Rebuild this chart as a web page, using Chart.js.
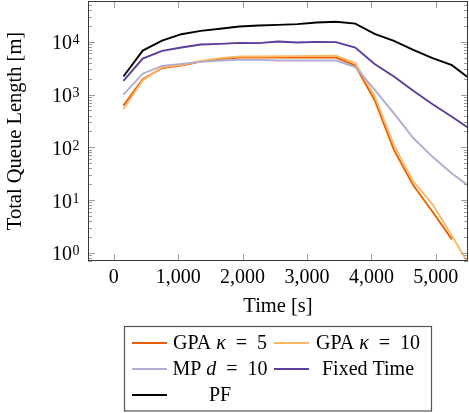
<!DOCTYPE html>
<html>
<head>
<meta charset="utf-8">
<script src="https://cdn.jsdelivr.net/npm/chart.js@4/dist/chart.umd.min.js"></script>
<style>
  html, body { margin: 0; padding: 0; background: #fff; }
</style>
</head>
<body>
<canvas id="id-canvas" width="469" height="413"></canvas>
<script>
// time steps [s]
var times = [150, 450, 750, 1050, 1350, 1650, 1950, 2250, 2550, 2850, 3150, 3450, 3750, 4050, 4350, 4650, 4950, 5250, 5550];

// total queue length [m]
var gpa5   = [615, 1960, 3170, 3540, 4220, 4680, 5030, 5030, 5100, 5030, 5030, 5030, 3550, 790, 89, 19, 6.0, 1.8, null];
var gpa10  = [530, 1840, 3300, 3600, 4350, 4900, 5250, 5250, 5300, 5350, 5400, 5450, 3950, 940, 110, 22.5, 8.3, 2.1, 0.5];
var mp10   = [1000, 2480, 3490, 3800, 4160, 4400, 4540, 4540, 4400, 4400, 4400, 4400, 3300, 1240, 440, 150, 66, 32, 17];
var fixedT = [1820, 4800, 6700, 7770, 8850, 9120, 9540, 9400, 10100, 9660, 9950, 9830, 7770, 3800, 2190, 1180, 655, 380, 215];
var pf     = [2200, 6800, 10500, 13900, 16100, 17600, 19400, 20300, 20900, 21600, 23100, 23900, 22100, 14100, 10400, 7000, 4900, 3600, 1900];

var seriesValues = [gpa5, gpa10, mp10, fixedT, pf];
// odd parts are set in italic (math letters); en spaces around "=" like TeX math
var seriesLabels = [['GPA ', 'κ', '\u2002=\u20025'], ['GPA ', 'κ', '\u2002=\u200210'], ['MP ', 'd', '\u2002=\u200210'], ['Fixed Time'], ['PF']];
var seriesColors = ['#e66101', '#fdb863', '#b2abd2', '#5e3c99', '#000000'];

var xTickValues = [0, 1000, 2000, 3000, 4000, 5000];
var yTickExponents = [0, 1, 2, 3, 4];

var FONT = "'Liberation Serif', 'Times New Roman', serif";

// draws a label made of plain / italic parts, centred on cx
function drawParts(ctx, parts, cx, y, size) {
  var widths = parts.map(function(p, i) {
    ctx.font = (i % 2 ? 'italic ' : '') + size + 'px ' + FONT;
    return ctx.measureText(p).width;
  });
  var total = widths.reduce(function(a, b) { return a + b; }, 0);
  var x = cx - total / 2;
  ctx.textAlign = 'left';
  parts.forEach(function(p, i) {
    ctx.font = (i % 2 ? 'italic ' : '') + size + 'px ' + FONT;
    ctx.fillText(p, x, y);
    x += widths[i];
  });
}

var frame = {
  id: 'frame',
  afterDraw: function(chart) {
    var ctx = chart.ctx, a = chart.chartArea;
    var xs = chart.scales.x, ys = chart.scales.y;
    ctx.save();

    // tick marks, inside the box on all four sides
    ctx.strokeStyle = '#9c9c9c';
    ctx.lineWidth = 1;
    ctx.beginPath();
    xTickValues.forEach(function(v) {
      var px = Math.round(xs.getPixelForValue(v)) + 0.5;
      ctx.moveTo(px, a.top); ctx.lineTo(px, a.top + 7);
      ctx.moveTo(px, a.bottom); ctx.lineTo(px, a.bottom - 7);
    });
    for (var e = -1; e <= 5; e++) {
      for (var m = 1; m <= 9; m++) {
        var v = m * Math.pow(10, e);
        if (v < ys.min || v > ys.max) continue;
        var py = Math.round(ys.getPixelForValue(v)) + 0.5;
        var len = m === 1 ? 7 : 4;
        ctx.moveTo(a.left, py); ctx.lineTo(a.left + len, py);
        ctx.moveTo(a.right, py); ctx.lineTo(a.right - len, py);
      }
    }
    ctx.stroke();

    // axis box
    ctx.strokeStyle = '#3a3a3a';
    ctx.strokeRect(a.left + 0.5, a.top + 0.5, a.right - a.left - 1, a.bottom - a.top - 1);

    // y tick labels 10^k
    ctx.fillStyle = '#000';
    ctx.textBaseline = 'alphabetic';
    yTickExponents.forEach(function(k) {
      var py = ys.getPixelForValue(Math.pow(10, k));
      ctx.font = '20px ' + FONT;
      ctx.textAlign = 'right';
      ctx.fillText('10', 72, py + 7.6);
      ctx.font = '14px ' + FONT;
      ctx.textAlign = 'left';
      ctx.fillText(String(k), 72.5, py + 2.5);
    });

    // axis titles
    ctx.font = '20.5px ' + FONT;
    ctx.textAlign = 'center';
    ctx.textBaseline = 'middle';
    ctx.fillText('Time [s]', (a.left + a.right) / 2, 307);
    ctx.save();
    ctx.translate(16, (a.top + a.bottom) / 2);
    ctx.rotate(-Math.PI / 2);
    ctx.fillText('Total Queue Length [m]', 0, 0);
    ctx.restore();

    // legend
    ctx.strokeStyle = '#555';
    ctx.lineWidth = 1.2;
    ctx.strokeRect(124.5, 326.5, 307, 84.5);
    var rows = [343, 369, 395];
    var cols = [{ x0: 132, x1: 167, tc: 220 }, { x0: 274, x1: 309, tc: 368 }];
    chart.data.datasets.forEach(function(ds, i) {
      var r = rows[Math.floor(i / 2)], c = cols[i % 2];
      ctx.strokeStyle = ds.borderColor;
      ctx.lineWidth = 1.8;
      ctx.beginPath();
      ctx.moveTo(c.x0, r); ctx.lineTo(c.x1, r);
      ctx.stroke();
      ctx.fillStyle = '#000';
      ctx.textBaseline = 'alphabetic';
      drawParts(ctx, seriesLabels[i], c.tc, r + 6, 20);
    });

    ctx.restore();
  }
};

var datasets = seriesValues.map(function(vals, i) {
  return {
    label: seriesLabels[i].join(''),
    data: times.map(function(t, j) { return { x: t, y: vals[j] }; }),
    borderColor: seriesColors[i],
    backgroundColor: seriesColors[i],
    borderWidth: 1.9,
    pointRadius: 0,
    tension: 0,
    fill: false,
    clip: 0,
    order: seriesValues.length - i
  };
});

var ctx = document.getElementById('id-canvas').getContext('2d');
window.chart = new Chart(ctx, {
  type: 'line',
  data: { datasets: datasets },
  options: {
    responsive: false,
    animation: false,
    devicePixelRatio: 1,
    layout: { padding: { left: 0, right: 1, top: 1, bottom: 0 } },
    plugins: { legend: { display: false }, tooltip: { enabled: false } },
    scales: {
      x: {
        type: 'linear',
        min: -400,
        max: 5500,
        grid: { display: false, drawTicks: false },
        border: { display: false },
        afterBuildTicks: function(s) { s.ticks = xTickValues.map(function(v) { return { value: v }; }); },
        afterFit: function(s) { s.height = 152; },
        ticks: {
          autoSkip: false,
          maxRotation: 0,
          padding: 5,
          color: '#000',
          font: { family: FONT, size: 20 },
          callback: function(v) { return v.toLocaleString('en-US'); }
        }
      },
      y: {
        type: 'logarithmic',
        min: 0.7,
        max: 59200,
        grid: { display: false, drawTicks: false },
        border: { display: false },
        ticks: { display: false },
        afterFit: function(s) { s.width = 88; }
      }
    }
  },
  plugins: [frame]
});
</script>
</body>
</html>
